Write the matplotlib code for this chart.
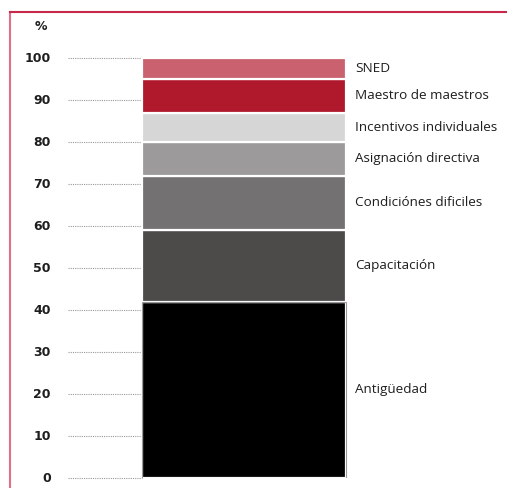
import matplotlib
matplotlib.use('Agg')
import matplotlib.pyplot as plt
from matplotlib.lines import Line2D

# componentes de la remuneración docente (% del total), de abajo hacia arriba
componentes = ['Antigüedad', 'Capacitación', 'Condiciónes dificiles', 'Asignación directiva',
               'Incentivos individuales', 'Maestro de maestros', 'SNED']
porcentajes = [42, 17, 13, 8, 7, 8, 5]
colores = ['#000000', '#4d4a4a', '#737171', '#9c9a9a', '#d6d6d6', '#b0182c', '#c9626e']
ticks_y = [0, 10, 20, 30, 40, 50, 60, 70, 80, 90, 100]

W, H = 507, 488
fig = plt.figure(figsize=(W / 100, H / 100), dpi=100)
fig.patch.set_facecolor('white')

# el eje va a toda la anchura; 0 cae en y=478 px y 100 en y=58 px
y0 = (H - 478) / H
y1 = (H - 58) / H
ax = fig.add_axes([0, y0, 1, y1 - y0])
bar_l, bar_r = 142, 346
ancho = (bar_r - bar_l)
ax.set_xlim(-bar_l / ancho, (W - bar_l) / ancho)
ax.set_ylim(0, 100)
ax.axis('off')

base = 0
for nombre, p, c in zip(componentes, porcentajes, colores):
    ax.bar(0, p, width=1, bottom=base, align='edge', color=c,
           edgecolor='white', linewidth=1.6, zorder=3)
    ax.text((355 - bar_l) / ancho, base + p / 2, nombre, ha='left', va='center',
            fontsize=9.7, family='Open Sans', color='#1e1e1e')
    base += p

# borde gris del bloque inferior
ax.bar(0, porcentajes[0], width=1, align='edge', color='none',
       edgecolor='#9a9a9a', linewidth=0.8, zorder=4)

# líneas punteadas y etiquetas del eje
for t in ticks_y:
    ax.plot([(68 - bar_l) / ancho, 0], [t, t], color='#999999', lw=0.8,
            linestyle=(0, (1, 1)), zorder=2, clip_on=False)
    ax.text((51 - bar_l) / ancho, t, str(t), ha='right', va='center',
            fontsize=9, fontweight='bold', color='#1e1e1e', clip_on=False)

fig.text(41 / W, 1 - 27 / H, '%', ha='center', va='center', fontsize=9,
         fontweight='bold', color='#1e1e1e')

# marco rojo
fig.add_artist(Line2D([10 / W, 10 / W], [0, 1 - 12 / H], color='#e0708a', lw=1.5))
fig.add_artist(Line2D([10 / W, 1], [1 - 12 / H, 1 - 12 / H], color='#c8284a', lw=1.5))

fig.savefig('out.png', dpi=100, facecolor='white')
